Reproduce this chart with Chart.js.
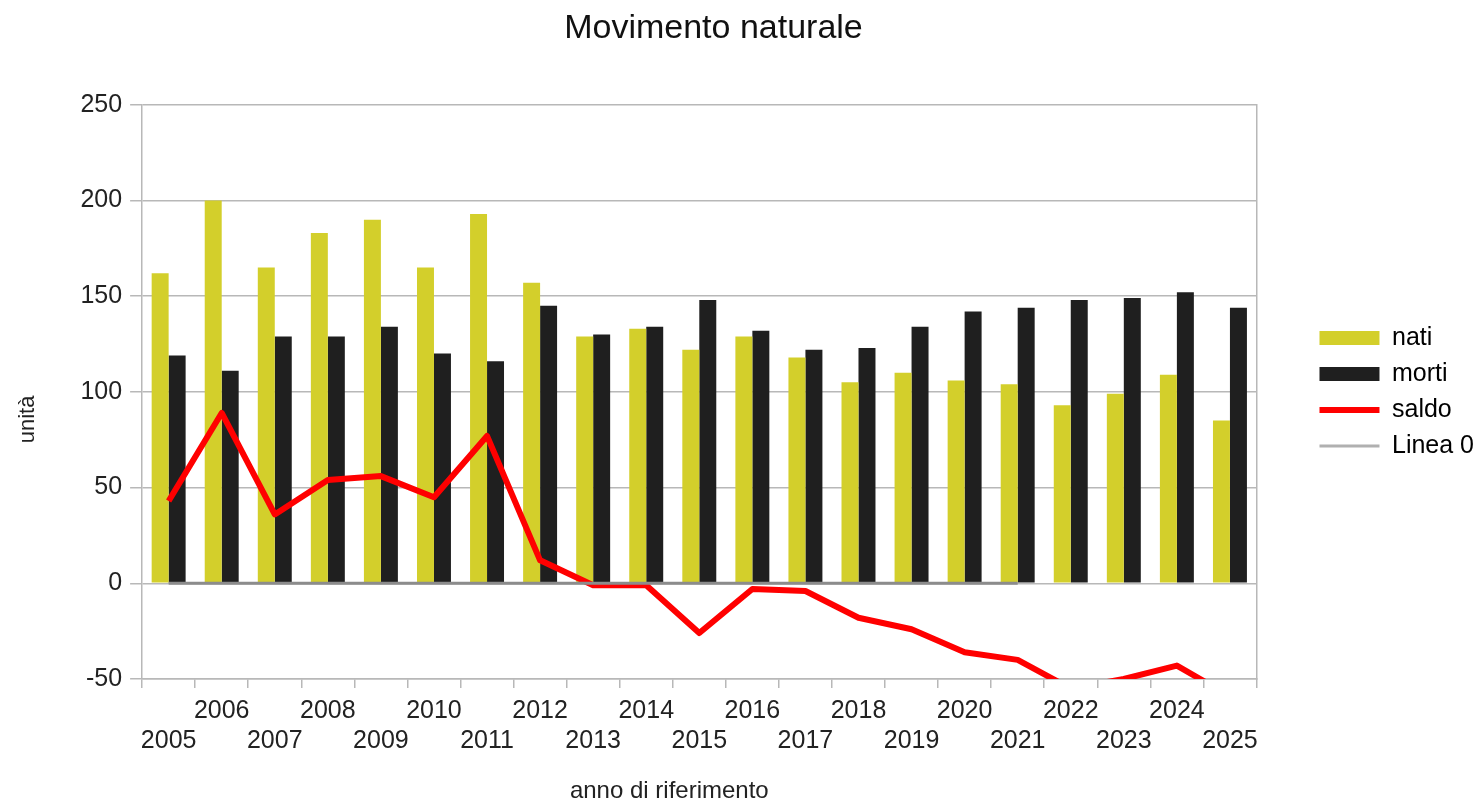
<!DOCTYPE html>
<html>
<head>
<meta charset="utf-8">
<script src="https://cdn.jsdelivr.net/npm/chart.js@4"></script>
<style>
  body { margin: 0; background: #fff; }
  #wrap { width: 1479px; height: 800px; }
</style>
</head>
<body>
<div id="wrap"><canvas id="myChart"></canvas></div>
<script>
const years = ["2005", "2006", "2007", "2008", "2009", "2010", "2011", "2012", "2013", "2014",
  "2015", "2016", "2017", "2018", "2019", "2020", "2021", "2022", "2023", "2024", "2025"];
const nati = [162, 200, 165, 183, 190, 165, 193, 157, 129, 133, 122, 129, 118, 105, 110, 106, 104, 93, 99, 109, 85];
const morti = [119, 111, 129, 129, 134, 120, 116, 145, 130, 134, 148, 132, 122, 123, 134, 142, 144, 148, 149, 152, 144];
const saldo = [43, 89, 36, 54, 56, 45, 77, 12, -1, -1, -26, -3, -4, -18, -24, -36, -40, -55, -50, -43, -59];
const linea0 = [0, 0, 0, 0, 0, 0, 0, 0, 0, 0, 0, 0, 0, 0, 0, 0, 0, null, null, null, null];
const yTicks = { min: -50, max: 250, step: 50 };

const yellow = "#d3cf2b";
const black = "#1f1f1f";
const red = "#ff0000";
const grey = "#8c8c8c";
const gridCol = "#b8b8b8";

Chart.defaults.font.family = "'Liberation Sans', Arial, sans-serif";
Chart.defaults.color = "#222";

const chartCtx = document.getElementById("myChart").getContext("2d");

new Chart(chartCtx, {
  type: "bar",
  data: {
    labels: years,
    datasets: [
      { label: "nati", data: nati, backgroundColor: yellow, borderWidth: 0, order: 2,
        categoryPercentage: 0.64, barPercentage: 1.0 },
      { label: "morti", data: morti, backgroundColor: black, borderWidth: 0, order: 2,
        categoryPercentage: 0.64, barPercentage: 1.0 },
      { type: "line", label: "saldo", data: saldo, borderColor: red, backgroundColor: red,
        borderWidth: 6, pointRadius: 0, tension: 0, borderJoinStyle: "round", clip: 0, order: 1 },
      { type: "line", label: "Linea 0", data: linea0, borderColor: grey, backgroundColor: grey,
        borderWidth: 3, pointRadius: 0, tension: 0, spanGaps: false, clip: 0, order: 0 },
    ],
  },
  options: {
    responsive: true,
    maintainAspectRatio: false,
    animation: false,
    events: [],
    layout: { padding: { left: 0, top: 0, bottom: 0, right: -5 } },
    scales: {
      x: {
        grid: { display: true, drawOnChartArea: false, drawTicks: true, tickLength: 9,
          color: gridCol, lineWidth: 1.5, offset: true },
        border: { color: gridCol, width: 1.5 },
        ticks: {
          autoSkip: false, maxRotation: 0, minRotation: 0, padding: 8,
          font: { size: 25 },
          callback: (v, i) => (i % 2 === 0 ? ["", years[i]] : [years[i]]),
        },
        title: { display: true, text: "anno di riferimento         ", font: { size: 24, lineHeight: 1 },
          padding: { top: 15, bottom: -3 } },
      },
      y: {
        min: yTicks.min,
        max: yTicks.max,
        ticks: { stepSize: yTicks.step, font: { size: 25 }, padding: 8 },
        grid: { color: gridCol, lineWidth: 1.5, tickLength: 12 },
        border: { color: gridCol, width: 1.5 },
        title: { display: true, text: "unità         ", font: { size: 22 },
          padding: { top: 15, bottom: 31 } },
      },
      yr: {
        type: "linear",
        position: "right",
        display: true,
        grid: { display: false },
        ticks: { display: false },
        border: { display: true, color: gridCol, width: 1.5 },
        afterFit: (scale) => { scale.width = 52; },
      },
    },
    plugins: {
      title: {
        display: true,
        text: "   Movimento naturale",
        fullSize: false,
        font: { size: 34, weight: "normal" },
        color: "#111",
        padding: { top: 8, bottom: 56 },
      },
      legend: {
        position: "right",
        fullSize: false,
        align: "center",
        labels: {
          usePointStyle: true,
          pointStyleWidth: 60,
          boxHeight: 14,
          padding: 11,
          font: { size: 25 },
          color: "#222",
          generateLabels: () => [
            { text: "nati", fillStyle: yellow, strokeStyle: yellow, lineWidth: 0, pointStyle: "rect", datasetIndex: 0, hidden: false },
            { text: "morti", fillStyle: black, strokeStyle: black, lineWidth: 0, pointStyle: "rect", datasetIndex: 1, hidden: false },
            { text: "saldo", fillStyle: red, strokeStyle: red, lineWidth: 6, pointStyle: "line", datasetIndex: 2, hidden: false },
            { text: "Linea 0", fillStyle: grey, strokeStyle: "#b0b0b0", lineWidth: 3, pointStyle: "line", datasetIndex: 3, hidden: false },
          ],
        },
      },
      tooltip: { enabled: false },
    },
  },
});
</script>
</body>
</html>
